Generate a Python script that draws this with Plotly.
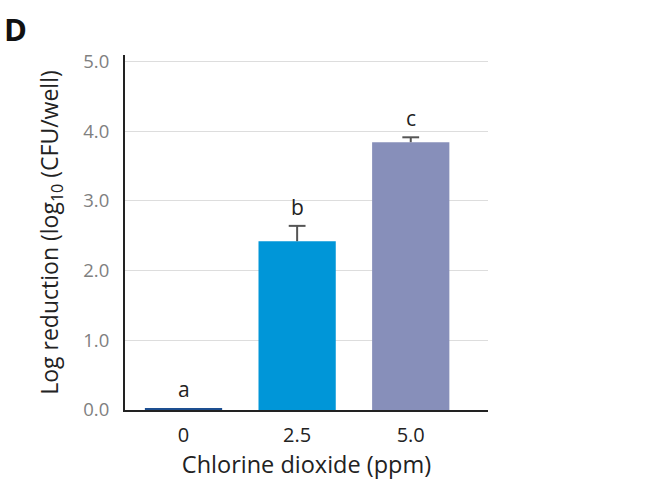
import plotly.graph_objects as go

categories = ["0", "2.5", "5.0"]
values = [0.03, 2.42, 3.84]
errors = [0.0, 0.22, 0.07]
letters = ["a", "b", "c"]
colors = ["#1d4f91", "#0096d8", "#878fba"]
y_ticks = [0, 1, 2, 3, 4, 5]
y_tick_labels = ["0.0", "1.0", "2.0", "3.0", "4.0", "5.0"]

FONT = "'Open Sans', 'DejaVu Sans', sans-serif"

xpos = list(range(len(categories)))

fig = go.Figure()
fig.add_trace(go.Bar(
    x=xpos,
    y=values,
    width=0.68,
    marker=dict(color=colors, line=dict(width=0)),
    showlegend=False,
    hoverinfo="skip",
))

# error bar stems (upward only) and caps
stem_x, stem_y, cap_x, cap_y = [], [], [], []
for i, (v, e) in enumerate(zip(values, errors)):
    if e > 0:
        stem_x += [i, i, None]
        stem_y += [v, v + e, None]
        cap_x.append(i)
        cap_y.append(v + e)
fig.add_trace(go.Scatter(x=stem_x, y=stem_y, mode="lines",
                         line=dict(color="#555555", width=2),
                         showlegend=False, hoverinfo="skip"))
fig.add_trace(go.Scatter(x=cap_x, y=cap_y, mode="markers",
                         marker=dict(symbol="line-ew-open", size=12,
                                     color="#555555",
                                     line=dict(color="#555555", width=2)),
                         showlegend=False, hoverinfo="skip"))

for i, (v, e, t) in enumerate(zip(values, errors, letters)):
    fig.add_annotation(x=i, y=v + e, text=t, showarrow=False,
                       yanchor="bottom", yshift=3,
                       font=dict(family=FONT, size=21, color="#222222"))

fig.add_annotation(x=0, y=1, xref="paper", yref="paper", text="<b>D</b>",
                   showarrow=False, xanchor="left", yanchor="top",
                   xshift=-123, yshift=49,
                   font=dict(family=FONT, size=31, color="#111111"))

fig.update_layout(
    width=657, height=482,
    margin=dict(l=125, r=169, t=55, b=72),
    paper_bgcolor="white", plot_bgcolor="white",
    font=dict(family=FONT),
)
fig.update_xaxes(
    automargin=False,
    tickmode="array", tickvals=xpos, ticktext=categories,
    range=[-0.515, 2.68],
    showline=True, linecolor="#222222", linewidth=2,
    showgrid=False, zeroline=False, ticks="",
    tickfont=dict(family=FONT, size=20, color="#222222"),
    ticklabelstandoff=6,
    title=dict(text="Chlorine dioxide (ppm)", standoff=7,
               font=dict(family=FONT, size=23.5, color="#222222")),
)
fig.update_yaxes(
    automargin=False,
    tickmode="array", tickvals=y_ticks, ticktext=y_tick_labels,
    range=[0, 5.09],
    showline=True, linecolor="#222222", linewidth=2,
    showgrid=True, gridcolor="#dddddd", gridwidth=1, zeroline=False, ticks="",
    tickfont=dict(family=FONT, size=18.5, color="#808080"),
    ticklabelstandoff=10,
    title=dict(text="Log reduction (log<sub>10</sub> (CFU/well)", standoff=18,
               font=dict(family=FONT, size=23, color="#222222")),
)

fig.write_html("out.html")
